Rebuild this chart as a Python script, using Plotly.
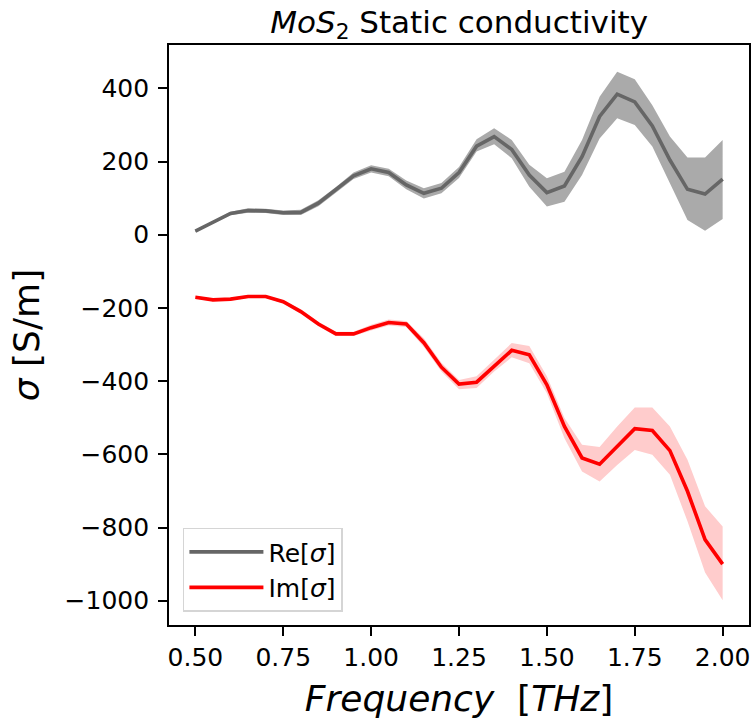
import plotly.graph_objects as go

freq = [0.50, 0.55, 0.60, 0.65, 0.70, 0.75, 0.80, 0.85, 0.90, 0.95,
        1.00, 1.05, 1.10, 1.15, 1.20, 1.25, 1.30, 1.35, 1.40, 1.45,
        1.50, 1.55, 1.60, 1.65, 1.70, 1.75, 1.80, 1.85, 1.90, 1.95, 2.00]

re_sigma = [10, 34, 58, 66, 65, 60, 61, 86, 122, 161,
            180, 170, 136, 113, 127, 170, 242, 268, 233, 163,
            115, 133, 213, 323, 384, 363, 297, 204, 124, 111, 152]
re_upper = [13, 38, 63, 72, 71, 66, 68, 94, 130, 170,
            190, 180, 148, 127, 141, 185, 261, 291, 259, 191,
            154, 172, 259, 377, 445, 425, 354, 268, 211, 211, 259]
re_lower = [7, 30, 53, 60, 59, 54, 54, 78, 114, 152,
            170, 160, 124, 99, 113, 155, 227, 247, 209, 131,
            77, 90, 163, 263, 318, 300, 241, 141, 40, 11, 43]

im_sigma = [-171, -178, -176, -169, -169, -183, -210, -244, -271, -271,
            -254, -240, -244, -295, -362, -408, -403, -358, -316, -328,
            -410, -524, -610, -627, -579, -530, -535, -590, -701, -833, -900]
im_upper = [-167, -174, -172, -165, -165, -179, -204, -238, -265, -265,
            -246, -232, -236, -283, -350, -397, -387, -342, -296, -304,
            -387, -501, -574, -580, -524, -472, -472, -524, -615, -742, -797]
im_lower = [-175, -182, -180, -173, -173, -187, -216, -250, -277, -277,
            -262, -248, -252, -307, -374, -422, -419, -374, -335, -351,
            -433, -556, -647, -674, -629, -588, -601, -656, -783, -923, -999]

x_ticks = [0.50, 0.75, 1.00, 1.25, 1.50, 1.75, 2.00]
y_ticks = [400, 200, 0, -200, -400, -600, -800, -1000]

FONT = "DejaVu Sans"

fig = go.Figure()

# shaded bands
fig.add_trace(go.Scatter(x=freq, y=re_lower, mode="lines", line=dict(width=0, color="#aaaaaa"),
                         showlegend=False, hoverinfo="skip"))
fig.add_trace(go.Scatter(x=freq, y=re_upper, mode="lines", line=dict(width=0, color="#aaaaaa"),
                         fill="tonexty", fillcolor="#aaaaaa", showlegend=False, hoverinfo="skip"))
fig.add_trace(go.Scatter(x=freq, y=im_lower, mode="lines", line=dict(width=0, color="#ffcccc"),
                         showlegend=False, hoverinfo="skip"))
fig.add_trace(go.Scatter(x=freq, y=im_upper, mode="lines", line=dict(width=0, color="#ffcccc"),
                         fill="tonexty", fillcolor="#ffcccc", showlegend=False, hoverinfo="skip"))

# lines
fig.add_trace(go.Scatter(x=freq, y=re_sigma, mode="lines", name="Re[<i>σ</i>]",
                         line=dict(color="#666666", width=3.6)))
fig.add_trace(go.Scatter(x=freq, y=im_sigma, mode="lines", name="Im[<i>σ</i>]",
                         line=dict(color="#ff0000", width=3.6)))

fig.update_layout(
    width=754, height=722,
    margin=dict(l=169, r=5, t=45, b=97, autoexpand=False),
    paper_bgcolor="white", plot_bgcolor="white",
    font=dict(family=FONT, size=25, color="black"),
    title=dict(text="<i>MoS</i><sub>2</sub> Static conductivity",
               x=(169 + 749.3) / 2 / 754, xanchor="center",
               y=1 - 22 / 722, yanchor="middle",
               font=dict(family=FONT, size=31, color="black")),
    legend=dict(x=0.024, y=0.023, xanchor="left", yanchor="bottom",
                bgcolor="white", bordercolor="#d5d5d5", borderwidth=1.5,
                font=dict(family=FONT, size=25, color="black"),
                traceorder="normal", tracegroupgap=0, itemwidth=74),
    showlegend=True,
)

fig.update_xaxes(
    range=[0.425, 2.075], tickvals=x_ticks, tickformat=".2f",
    ticks="outside", ticklen=9, tickwidth=1.5, tickcolor="black",
    showline=True, linecolor="black", linewidth=1.6, mirror=True,
    showgrid=False, zeroline=False,
    tickfont=dict(family=FONT, size=25, color="black"),
    title=dict(text="<i>Frequency</i>&nbsp;&nbsp;[<i>THz</i>]",
               font=dict(family=FONT, size=36, color="black"), standoff=15),
)
fig.update_yaxes(
    range=[-1066.4, 518.3], tickvals=y_ticks,
    ticks="outside", ticklen=9, tickwidth=1.5, tickcolor="black",
    showline=True, linecolor="black", linewidth=1.6, mirror=True,
    showgrid=False, zeroline=False, ticklabelstandoff=4,
    tickfont=dict(family=FONT, size=25, color="black"),
    title=dict(text="<i>σ</i> [S/m]",
               font=dict(family=FONT, size=36, color="black"), standoff=14),
)

fig.write_html("out.html")
